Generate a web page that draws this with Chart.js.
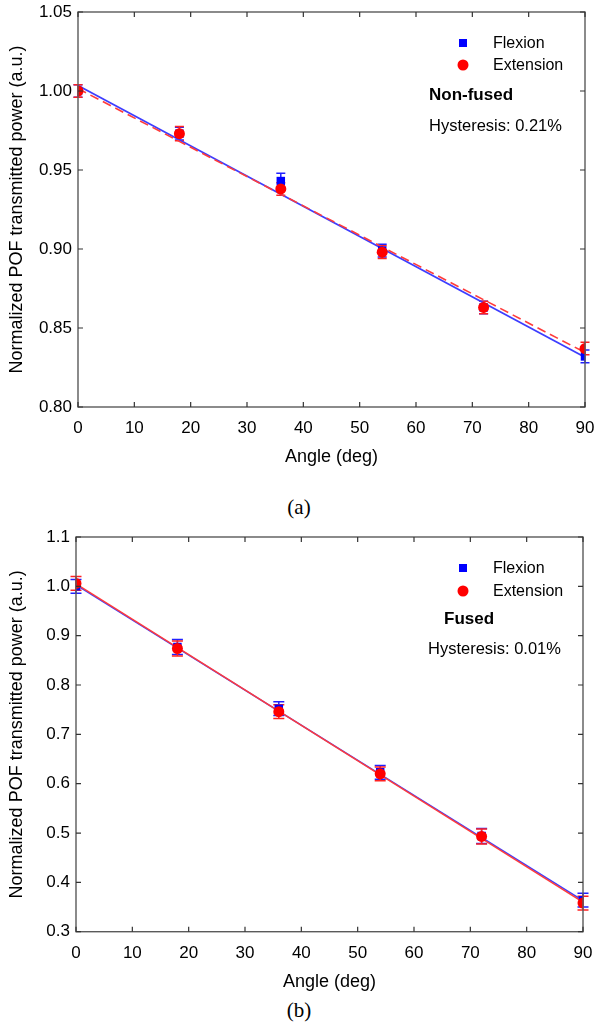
<!DOCTYPE html>
<html><head><meta charset="utf-8">
<script src="https://cdn.jsdelivr.net/npm/chart.js@4.4.1/dist/chart.umd.min.js"></script>
<style>
body{margin:0;background:#fff;width:595px;height:1024px;position:relative;overflow:hidden;font-family:"Liberation Sans",Arial,sans-serif;}
canvas{position:absolute;left:0;}
.t{position:absolute;white-space:nowrap;color:#000;line-height:1;transform:translateY(-50%);}
.cap{position:absolute;white-space:nowrap;font-family:"Liberation Serif","DejaVu Serif",serif;font-size:21px;transform:translate(-50%,-50%);line-height:1;}
.sq{position:absolute;width:8px;height:8px;background:#0000ff;transform:translate(-50%,-50%);}
.ci{position:absolute;width:11px;height:11px;border-radius:50%;background:#ff0000;transform:translate(-50%,-50%);}
</style></head><body>
<canvas id="c1" width="595" height="470" style="top:0;width:595px;height:470px"></canvas>
<canvas id="c2" width="595" height="470" style="top:525px;width:595px;height:470px"></canvas>

<div class="sq" style="left:463px;top:43px"></div>
<div class="t" style="left:493px;top:43px;font-size:16px">Flexion</div>
<div class="ci" style="left:463px;top:65px"></div>
<div class="t" style="left:493px;top:65px;font-size:16px">Extension</div>
<div class="t" style="left:429px;top:94px;font-size:17px;font-weight:bold">Non-fused</div>
<div class="t" style="left:429px;top:125px;font-size:16.5px">Hysteresis: 0.21%</div>
<div class="cap" style="left:299px;top:507px">(a)</div>

<div class="sq" style="left:463px;top:568px"></div>
<div class="t" style="left:493px;top:568px;font-size:16px">Flexion</div>
<div class="ci" style="left:463px;top:591px"></div>
<div class="t" style="left:493px;top:591px;font-size:16px">Extension</div>
<div class="t" style="left:444px;top:618px;font-size:17px;font-weight:bold">Fused</div>
<div class="t" style="left:428px;top:648px;font-size:16.5px">Hysteresis: 0.01%</div>
<div class="cap" style="left:299px;top:1010px">(b)</div>

<script>
// ---- data ----
const angles = [0, 18, 36, 54, 72, 90];
const fitAngles = [0, 90];
const xTicks = [0, 10, 20, 30, 40, 50, 60, 70, 80, 90];

// (a) Non-fused
const nfFlexion = [1.000, 0.973, 0.943, 0.899, 0.863, 0.832];
const nfFlexionErr = [0.004, 0.004, 0.005, 0.004, 0.004, 0.004];
const nfExtension = [1.000, 0.973, 0.938, 0.898, 0.863, 0.837];
const nfExtensionErr = [0.004, 0.0045, 0.004, 0.004, 0.004, 0.004];
const nfFlexionFit = [1.0035, 0.8315];
const nfExtensionFit = [1.0015, 0.8345];
const nfYTicks = [0.80, 0.85, 0.90, 0.95, 1.00, 1.05];

// (b) Fused
const fFlexion = [1.000, 0.877, 0.752, 0.623, 0.494, 0.364];
const fFlexionErr = [0.014, 0.015, 0.014, 0.014, 0.015, 0.014];
const fExtension = [1.006, 0.874, 0.746, 0.620, 0.493, 0.358];
const fExtensionErr = [0.014, 0.015, 0.014, 0.014, 0.015, 0.014];
const fFlexionFit = [1.003, 0.363];
const fExtensionFit = [1.005, 0.360];
const fYTicks = [0.3, 0.4, 0.5, 0.6, 0.7, 0.8, 0.9, 1.0, 1.1];

const pts = (xs, ys) => xs.map((x, i) => ({x, y: ys[i]}));

const errorBars = {
  id: 'errorBars',
  beforeDatasetsDraw(chart) {
    const ctx = chart.ctx, xs = chart.scales.x, ys = chart.scales.y;
    const order = [...chart.data.datasets].filter(d => d.errors).reverse();
    order.forEach(ds => {
      ctx.save();
      ctx.strokeStyle = ds.errColor;
      ctx.lineWidth = 1.5;
      ds.data.forEach((p, i) => {
        const e = ds.errors[i];
        const px = xs.getPixelForValue(p.x);
        const t = ys.getPixelForValue(p.y + e), b = ys.getPixelForValue(p.y - e);
        const w = ds.capHalf;
        ctx.beginPath();
        ctx.moveTo(px, t); ctx.lineTo(px, b);
        ctx.moveTo(px - w, t); ctx.lineTo(px + w, t);
        ctx.moveTo(px - w, b); ctx.lineTo(px + w, b);
        ctx.stroke();
      });
      ctx.restore();
    });
  }
};

const frame = {
  id: 'frame',
  afterDraw(chart) {
    const ctx = chart.ctx, a = chart.chartArea, xs = chart.scales.x, ys = chart.scales.y;
    ctx.save();
    ctx.strokeStyle = '#5a5a5a';
    ctx.lineWidth = 1.4;
    ctx.strokeRect(a.left, a.top, a.right - a.left, a.bottom - a.top);
    ctx.lineWidth = 1.2;
    ctx.strokeStyle = '#333';
    const L = 5;
    ctx.beginPath();
    xs.ticks.forEach(t => {
      const px = xs.getPixelForValue(t.value);
      ctx.moveTo(px, a.bottom); ctx.lineTo(px, a.bottom - L);
      ctx.moveTo(px, a.top); ctx.lineTo(px, a.top + L);
    });
    ys.ticks.forEach(t => {
      const py = ys.getPixelForValue(t.value);
      ctx.moveTo(a.left, py); ctx.lineTo(a.left + L, py);
      ctx.moveTo(a.right, py); ctx.lineTo(a.right - L, py);
    });
    ctx.stroke();
    ctx.restore();
  }
};

function makeChart(id, cfg) {
  const tickFont = {family: '"Liberation Sans", Arial, sans-serif', size: 17};
  const titleFont = {family: '"Liberation Sans", Arial, sans-serif', size: 18};
  return new Chart(document.getElementById(id), {
    type: 'scatter',
    data: {
      datasets: [
        {label: 'Extension', data: pts(angles, cfg.ext), pointStyle: 'circle', pointRadius: 5.5,
         backgroundColor: '#ff0000', borderColor: '#ff0000', borderWidth: 0,
         errors: cfg.extErr, errColor: '#ff2020', capHalf: cfg.cap},
        {label: 'Flexion', data: pts(angles, cfg.flex), pointStyle: 'rect', pointRadius: 6,
         backgroundColor: '#0000ff', borderColor: '#0000ff', borderWidth: 0,
         errors: cfg.flexErr, errColor: '#2020ff', capHalf: cfg.cap},
        {label: 'Extension fit', data: pts(fitAngles, cfg.extFit), showLine: true, pointRadius: 0,
         borderColor: '#ff3b3b', borderWidth: 1.6, borderDash: cfg.dash},
        {label: 'Flexion fit', data: pts(fitAngles, cfg.flexFit), showLine: true, pointRadius: 0,
         borderColor: '#3d3dff', borderWidth: 1.6}
      ]
    },
    options: {
      responsive: false,
      animation: false,
      events: [],
      layout: {padding: {top: cfg.padTop, right: cfg.padRight, left: 0, bottom: 0}},
      plugins: {legend: {display: false}, tooltip: {enabled: false}},
      scales: {
        x: {
          type: 'linear', min: 0, max: 90,
          afterBuildTicks: s => { s.ticks = xTicks.map(v => ({value: v})); },
          afterFit: s => { s.height = cfg.xHeight; s.paddingLeft = 0; s.paddingRight = 0; },
          grid: {display: false, drawTicks: false},
          border: {display: false},
          ticks: {font: tickFont, color: '#000', padding: 11, maxRotation: 0,
                  callback: v => String(v)},
          title: {display: true, text: 'Angle (deg)', font: titleFont, color: '#000',
                  padding: {top: 0, bottom: 2}}
        },
        y: {
          type: 'linear', min: cfg.yMin, max: cfg.yMax,
          afterBuildTicks: s => { s.ticks = cfg.yTicks.map(v => ({value: v})); },
          afterFit: s => { s.width = cfg.yWidth; s.paddingTop = 0; s.paddingBottom = 0; },
          grid: {display: false, drawTicks: false},
          border: {display: false},
          ticks: {font: tickFont, color: '#000', padding: 6,
                  callback: v => Number(v).toFixed(cfg.dec)},
          title: {display: true, text: 'Normalized POF transmitted power (a.u.)', font: titleFont,
                  color: '#000', padding: {top: 6, bottom: 0}}
        }
      }
    },
    plugins: [errorBars, frame]
  });
}

makeChart('c1', {
  ext: nfExtension, extErr: nfExtensionErr, flex: nfFlexion, flexErr: nfFlexionErr,
  extFit: nfExtensionFit, flexFit: nfFlexionFit, dash: [9, 5], cap: 4.5,
  yMin: 0.80, yMax: 1.05, yTicks: nfYTicks, dec: 2,
  yWidth: 78, xHeight: 63, padRight: 10, padTop: 12
});
makeChart('c2', {
  ext: fExtension, extErr: fExtensionErr, flex: fFlexion, flexErr: fFlexionErr,
  extFit: fExtensionFit, flexFit: fFlexionFit, dash: [], cap: 5.5,
  yMin: 0.3, yMax: 1.1, yTicks: fYTicks, dec: 1,
  yWidth: 76, xHeight: 63.3, padRight: 12, padTop: 12
});
</script>
</body></html>
